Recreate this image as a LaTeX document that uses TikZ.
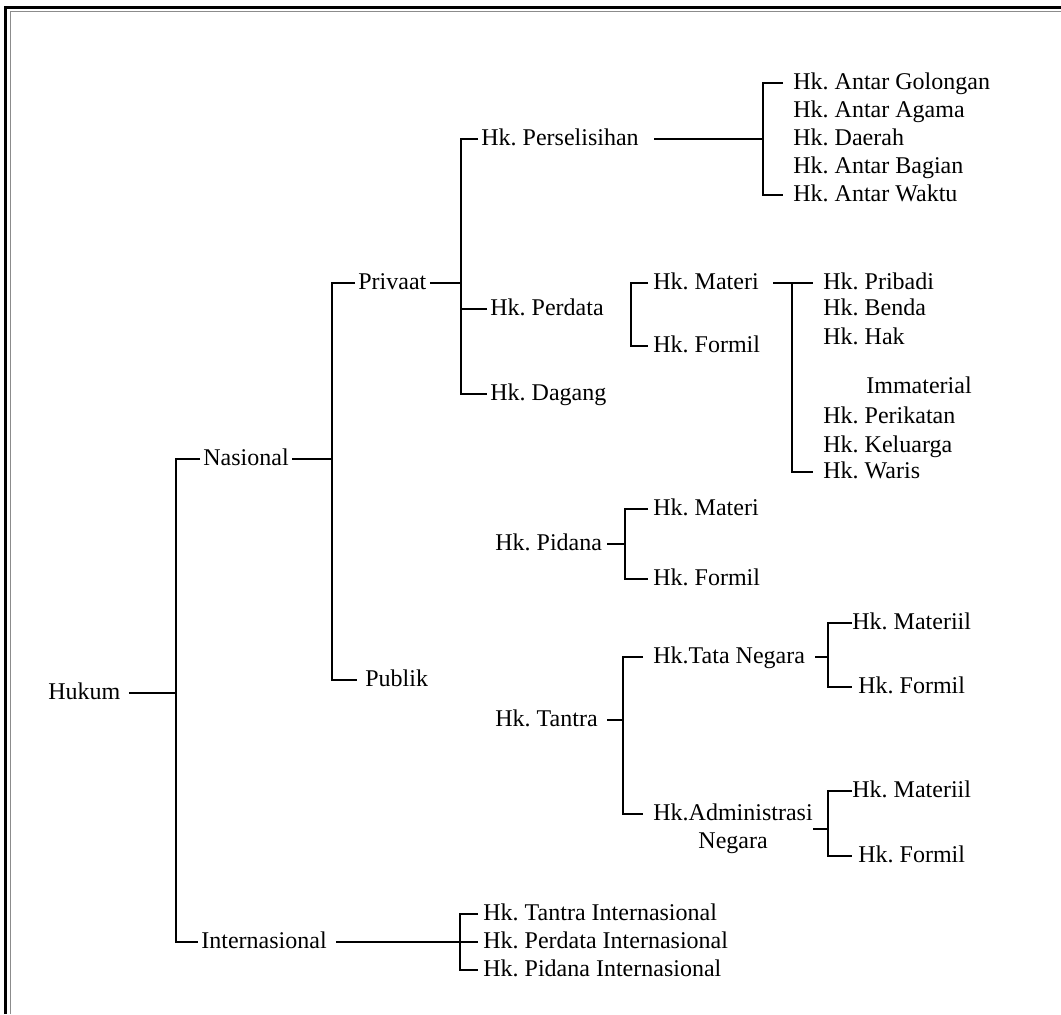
\documentclass[tikz,border=0pt]{standalone}
\usepackage{fontspec}
\setmainfont{Liberation Serif}
\frenchspacing
\begin{document}
\begin{tikzpicture}[
    x=0.5pt, y=-0.5pt,
    lbl/.style={
        inner ysep=0pt,
        inner xsep=1.5pt,
        anchor=west,
        text height=6.5pt,
        text depth=0pt,
        font=\fontsize{12}{14}\selectfont
    },
    sub/.style={lbl, inner xsep=2.5pt},
    item/.style={lbl, inner xsep=5pt},
    twoline/.style={
        inner ysep=0pt,
        inner xsep=5pt,
        anchor=west,
        align=center,
        font=\fontsize{12}{14}\selectfont
    },
    link/.style={line width=1.4pt, draw=black}
]
    \useasboundingbox (0,0) rectangle (1061,1014);
    \draw[line width=1.5pt] (5.5,1014) -- (5.5,7.5) -- (1061,7.5);
    \draw[line width=0.75pt, draw=black!45] (10.5,1014) -- (10.5,11.5) -- (1061,11.5);

    \node[lbl, inner xsep=4pt] (hukum) at (40,693) {Hukum};
    \node[lbl] (nasional) at (200,459) {Nasional};
    \node[lbl] (internasional) at (198,942) {Internasional};

    \node[lbl] (privaat) at (355,283) {Privaat};
    \node[lbl, inner xsep=4pt] (publik) at (357,680) {Publik};

    \node[lbl] (perselisihan) at (478,139) {Hk. Perselisihan};
    \node[lbl] (perdata) at (487,309) {Hk. Perdata};
    \node[lbl] (dagang) at (487,394) {Hk. Dagang};

    \node[item] (golongan) at (783,83) {Hk. Antar Golongan};
    \node[item] (agama) at (783,111) {Hk. Antar Agama};
    \node[item] (daerah) at (783,139) {Hk. Daerah};
    \node[item] (bagian) at (783,167) {Hk. Antar Bagian};
    \node[item] (waktu) at (783,195) {Hk. Antar Waktu};

    \node[sub] (materiA) at (648,283) {Hk. Materi};
    \node[sub] (formilA) at (648,346) {Hk. Formil};

    \node[item] (pribadi) at (813,283) {Hk. Pribadi};
    \node[item] (benda) at (813,309) {Hk. Benda};
    \node[item] (hak) at (813,338) {Hk. Hak};
    \node[lbl, inner xsep=0pt] (immaterial) at (866,387) {Immaterial};
    \node[item] (perikatan) at (813,417) {Hk. Perikatan};
    \node[item] (keluarga) at (813,446) {Hk. Keluarga};
    \node[item] (waris) at (813,472) {Hk. Waris};

    \node[lbl] (pidana) at (492,544) {Hk. Pidana};
    \node[sub] (materiB) at (648,509) {Hk. Materi};
    \node[sub] (formilB) at (648,579) {Hk. Formil};

    \node[lbl] (tantra) at (492,720) {Hk. Tantra};
    \node[item] (tata) at (643,657) {Hk.Tata Negara};
    \node[twoline] (admin) at (643,829) {Hk.Administrasi\\Negara};

    \node[lbl, inner xsep=0pt] (materiilA) at (852,623) {Hk. Materiil};
    \node[lbl, inner xsep=3pt] (formilC) at (852,687) {Hk. Formil};
    \node[lbl, inner xsep=0pt] (materiilB) at (852,791) {Hk. Materiil};
    \node[lbl, inner xsep=3pt] (formilD) at (852,856) {Hk. Formil};

    \node[sub] (tantraInt) at (478,914) {Hk. Tantra Internasional};
    \node[sub] (perdataInt) at (478,942) {Hk. Perdata Internasional};
    \node[sub] (pidanaInt) at (478,970) {Hk. Pidana Internasional};

    \coordinate (sHukum) at (176,693);
    \coordinate (sNasional) at (332,459);
    \coordinate (sPrivaat) at (461,283);
    \coordinate (sPerselisihan) at (763,139);
    \coordinate (sMateri) at (792,283);
    \coordinate (sPidana) at (625,544);
    \coordinate (sTantra) at (623,720);
    \coordinate (sTata) at (828,657);
    \coordinate (sAdmin) at (828,829);
    \coordinate (sInter) at (460,942);

    \draw[link] (hukum.east) -- (sHukum);
    \draw[link] (nasional.west) -| (sHukum) |- (internasional.west);

    \draw[link] (nasional.east) -- (sNasional);
    \draw[link] (privaat.west) -| (sNasional) |- (publik.west);

    \draw[link] (privaat.east) -- (sPrivaat);
    \draw[link] (perselisihan.west) -| (sPrivaat) |- (dagang.west);
    \draw[link] (perdata.west) -- (perdata.west -| sPrivaat);

    \draw[link] ([xshift=6pt]perselisihan.east) -- (sPerselisihan);
    \draw[link] (golongan.west) -| (sPerselisihan) |- (waktu.west);

    \draw[link] (materiA.west) -- ++(-17,0) |- (formilA.west);
    \draw[link] ([xshift=4.5pt]materiA.east) -- (pribadi.west);
    \draw[link] (sMateri) |- (waris.west);

    \draw[link] ([xshift=1pt]pidana.east) -- (sPidana);
    \draw[link] (materiB.west) -| (sPidana) |- (formilB.west);

    \draw[link] ([xshift=3pt]tantra.east) -- (sTantra);
    \draw[link] (tata.west) -| (sTantra) |- ([yshift=7.5pt]admin.west);

    \draw[link] (tata.east) -- (sTata);
    \draw[link] (materiilA.west) -| (sTata) |- (formilC.west);

    \draw[link] ([xshift=-5pt]admin.east) -- (sAdmin);
    \draw[link] (materiilB.west) -| (sAdmin) |- (formilD.west);

    \draw[link] ([xshift=3pt]internasional.east) -- (perdataInt.west);
    \draw[link] (tantraInt.west) -| (sInter) |- (pidanaInt.west);
\end{tikzpicture}
\end{document}
